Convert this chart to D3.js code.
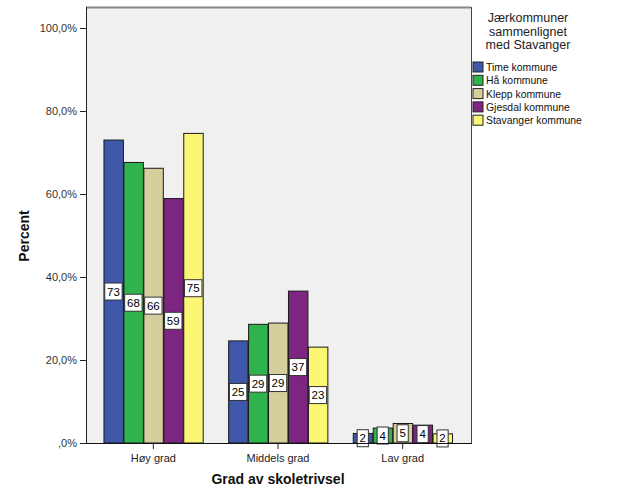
<!DOCTYPE html>
<html><head><meta charset="utf-8">
<script src="https://cdn.jsdelivr.net/npm/d3@7"></script>
<style>body{margin:0;background:#fff;} svg{display:block;font-family:"Liberation Sans",Arial,sans-serif;}</style>
</head><body>
<svg id="c" width="629" height="504"></svg>
<script>
const categories = ["Høy grad", "Middels grad", "Lav grad"];
const seriesNames = ["Time kommune", "Hå kommune", "Klepp kommune", "Gjesdal kommune", "Stavanger kommune"];
const seriesColors = ["#3e57a9", "#30b34c", "#d5cf9e", "#7c2581", "#fbf673"];
const timeValues = [73.0, 24.6, 2.3];
const haValues = [67.6, 28.6, 3.6];
const kleppValues = [66.2, 28.9, 4.7];
const gjesdalValues = [58.9, 36.6, 4.3];
const stavangerValues = [74.6, 23.1, 2.2];
const yTicks = [0, 20, 40, 60, 80, 100];
const yTickLabels = [",0%", "20,0%", "40,0%", "60,0%", "80,0%", "100,0%"];
const legendTitle = ["Jærkommuner", "sammenlignet", "med Stavanger"];

const values = [timeValues, haValues, kleppValues, gjesdalValues, stavangerValues];
const svg = d3.select("#c");
const plot = {left: 86, right: 471, top: 7, bottom: 443};

const y = d3.scaleLinear().domain([0, 100]).range([443, 28]);
const x0 = d3.scaleBand().domain(categories).range([91, 465]).paddingInner(0.2).paddingOuter(0.1);
const x1 = d3.scaleBand().domain(seriesNames).range([0, x0.bandwidth()]);

// plot background
svg.append("rect").attr("x", plot.left).attr("y", plot.top)
  .attr("width", plot.right - plot.left).attr("height", plot.bottom - plot.top)
  .attr("fill", "#f0f0f0");
svg.append("line").attr("x1", plot.left).attr("x2", plot.right).attr("y1", plot.top + 0.5).attr("y2", plot.top + 0.5)
  .attr("stroke", "#888").attr("stroke-width", 2);
svg.append("line").attr("x1", plot.right + 0.5).attr("x2", plot.right + 0.5).attr("y1", plot.top).attr("y2", plot.bottom)
  .attr("stroke", "#444");

// bars
const groups = svg.append("g").selectAll("g").data(categories).join("g")
  .attr("transform", c => `translate(${x0(c)},0)`);
groups.each(function(c, ci) {
  const g = d3.select(this);
  seriesNames.forEach((s, si) => {
    const v = values[si][ci];
    g.append("rect").attr("x", x1(s) + 0.5).attr("y", y(v))
      .attr("width", x1.bandwidth() - 0.5).attr("height", y(0) - y(v))
      .attr("fill", seriesColors[si]).attr("stroke", "#1a1a1a").attr("stroke-width", 1);
  });
  seriesNames.forEach((s, si) => {
    const v = values[si][ci];
    const label = String(Math.round(v));
    const cx = x1(s) + x1.bandwidth() / 2;
    const cy = (y(v) + y(0)) / 2;
    const w = label.length * 6.2 + 5, h = 17;
    g.append("rect").attr("x", cx - w / 2).attr("y", cy - h / 2).attr("width", w).attr("height", h)
      .attr("fill", "#fff").attr("stroke", "#333").attr("stroke-width", 1);
    g.append("text").attr("x", cx).attr("y", cy + 4).attr("text-anchor", "middle")
      .attr("font-size", 11.5).attr("fill", "#000").text(label);
  });
});

// y axis
const yAxis = d3.axisLeft(y).tickValues(yTicks).tickSize(6).tickFormat((d, i) => yTickLabels[i]);
const ya = svg.append("g").attr("transform", `translate(${plot.left},0)`).call(yAxis);
ya.select(".domain").attr("d", `M0.5,${plot.top}V${plot.bottom}`).attr("stroke", "#222");
ya.selectAll(".tick line").attr("stroke", "#222");
ya.selectAll(".tick text").attr("font-size", 11).attr("fill", "#333").attr("font-family", "Liberation Sans, Arial, sans-serif");

// x axis
const xAxis = d3.axisBottom(x0).tickSize(6).tickSizeOuter(0);
const xa = svg.append("g").attr("transform", `translate(0,${plot.bottom})`).call(xAxis);
xa.select(".domain").attr("d", `M${plot.left},0.5H${plot.right + 1}`).attr("stroke", "#111");
xa.selectAll(".tick line").attr("stroke", "#222");
xa.selectAll(".tick text").attr("font-size", 11).attr("fill", "#222").attr("dy", "0.9em").attr("font-family", "Liberation Sans, Arial, sans-serif");

// axis titles
svg.append("text").attr("x", 278).attr("y", 484).attr("text-anchor", "middle")
  .attr("font-size", 14).attr("font-weight", "bold").attr("fill", "#111").text("Grad av skoletrivsel");
svg.append("text").attr("transform", "translate(29,236) rotate(-90)").attr("text-anchor", "middle")
  .attr("font-size", 14).attr("font-weight", "bold").attr("fill", "#111").text("Percent");

// legend
const lt = svg.append("text").attr("x", 528).attr("y", 22).attr("text-anchor", "middle")
  .attr("font-size", 12.5).attr("fill", "#222");
legendTitle.forEach((t, i) => lt.append("tspan").attr("x", 528).attr("dy", i === 0 ? 0 : 13.5).text(t));
const lg = svg.append("g").selectAll("g").data(seriesNames).join("g")
  .attr("transform", (d, i) => `translate(473,${62 + i * 13.3})`);
lg.append("rect").attr("width", 10).attr("height", 10).attr("fill", (d, i) => seriesColors[i])
  .attr("stroke", "#222").attr("stroke-width", 1);
lg.append("text").attr("x", 13).attr("y", 9).attr("font-size", 10.4).attr("fill", "#111").text(d => d);
</script>
</body></html>
